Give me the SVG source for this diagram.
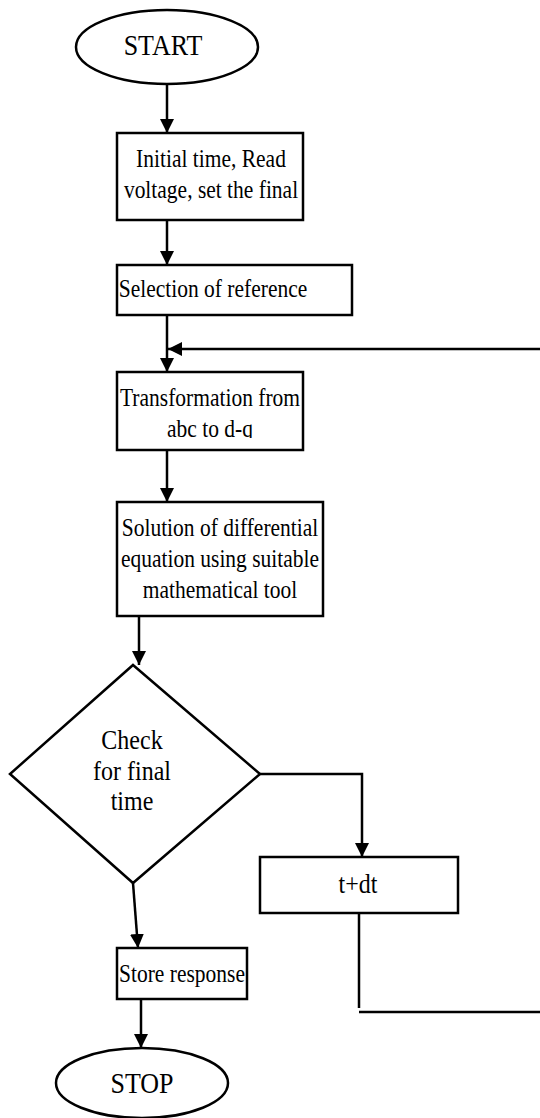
<svg xmlns="http://www.w3.org/2000/svg" width="540" height="1118" viewBox="0 0 540 1118">
<style>
.shape{fill:#fff;stroke:#000;stroke-width:2.5}
.txt{font-family:"Liberation Serif","Times New Roman",serif;font-size:21.5px;fill:#000;text-anchor:middle}
.big{font-size:26px}
.mid{font-size:24px}
.conn{fill:none;stroke:#000;stroke-width:2.5}
</style>
<defs>
<marker id="arr" markerUnits="userSpaceOnUse" markerWidth="16" markerHeight="16" refX="14" refY="7" orient="auto">
<path d="M0,0 L14,7 L0,14 z" fill="#000"/>
</marker>
<clipPath id="clip3"><rect x="117" y="372" width="186" height="66"/></clipPath>
</defs>
<rect width="540" height="1118" fill="#fff"/>
<g id="connectors">
<line class="conn" x1="167" y1="84" x2="167" y2="133" marker-end="url(#arr)"/>
<line class="conn" x1="167" y1="220" x2="167" y2="265" marker-end="url(#arr)"/>
<line class="conn" x1="167" y1="315" x2="167" y2="372" marker-end="url(#arr)"/>
<line class="conn" x1="540" y1="349" x2="168" y2="349" marker-end="url(#arr)"/>
<line class="conn" x1="167" y1="450" x2="167" y2="502" marker-end="url(#arr)"/>
<line class="conn" x1="139" y1="616" x2="139" y2="665" marker-end="url(#arr)"/>
<polyline class="conn" points="260,774 362,774 362,857" marker-end="url(#arr)"/>
<line class="conn" x1="359" y1="913" x2="359" y2="1008"/>
<line class="conn" x1="359" y1="1012" x2="540" y2="1012"/>
<line class="conn" x1="133" y1="883" x2="138" y2="948" marker-end="url(#arr)"/>
<line class="conn" x1="141" y1="999" x2="141" y2="1048" marker-end="url(#arr)"/>
</g>
<g id="start">
<ellipse class="shape" cx="167" cy="47" rx="91" ry="37"/>
<text class="txt big" transform="translate(163,55) scale(1,1.1)">START</text>
</g>
<g id="init">
<rect class="shape" x="117" y="133" width="186" height="87"/>
<text class="txt" transform="translate(211,167) scale(1,1.15)">Initial time, Read</text>
<text class="txt" transform="translate(211,198) scale(1,1.15)">voltage, set the final</text>
</g>
<g id="select">
<rect class="shape" x="117" y="265" width="235" height="50"/>
<text class="txt" transform="translate(213,297) scale(1,1.15)">Selection of reference</text>
</g>
<g id="transform">
<rect class="shape" x="117" y="372" width="186" height="78"/>
<text class="txt" transform="translate(210,406) scale(1,1.15)">Transformation from</text>
<g clip-path="url(#clip3)"><text class="txt" transform="translate(210,437) scale(1,1.15)">abc to d-q</text></g>
</g>
<g id="solve">
<rect class="shape" x="117" y="502" width="206" height="114"/>
<text class="txt" transform="translate(220,536) scale(1,1.15)">Solution of differential</text>
<text class="txt" transform="translate(220,567) scale(1,1.15)">equation using suitable</text>
<text class="txt" transform="translate(220,598) scale(1,1.15)">mathematical tool</text>
</g>
<g id="check">
<polygon class="shape" points="133,665 260,774 133,883 10,774"/>
<text class="txt mid" transform="translate(132,749) scale(1,1.1)">Check</text>
<text class="txt mid" transform="translate(132,780) scale(1,1.1)">for final</text>
<text class="txt mid" transform="translate(132,810) scale(1,1.1)">time</text>
</g>
<g id="increment">
<rect class="shape" x="260" y="857" width="198" height="56"/>
<text class="txt mid" transform="translate(358,893) scale(1,1.1)">t+dt</text>
</g>
<g id="store">
<rect class="shape" x="117" y="948" width="130" height="51"/>
<text class="txt" transform="translate(182,982) scale(1,1.15)">Store response</text>
</g>
<g id="stop">
<ellipse class="shape" cx="142" cy="1083" rx="86" ry="35"/>
<text class="txt big" transform="translate(142,1093) scale(1,1.1)">STOP</text>
</g>
</svg>
